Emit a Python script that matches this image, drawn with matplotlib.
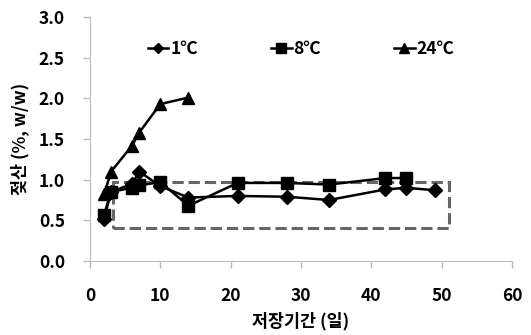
import numpy as np
import matplotlib
matplotlib.use("Agg")
import matplotlib.pyplot as plt
from matplotlib.patches import Rectangle

plt.rcParams['font.family'] = ['Noto Sans CJK KR', 'DejaVu Sans']
plt.rcParams['font.weight'] = 'bold'

days_1c = [2, 3, 6, 7, 10, 14, 21, 28, 34, 42, 45, 49]
acid_1c = [0.52, 0.85, 0.95, 1.10, 0.92, 0.78, 0.80, 0.79, 0.75, 0.88, 0.90, 0.87]

days_8c = [2, 3, 6, 7, 10, 14, 21, 28, 34, 42, 45]
acid_8c = [0.57, 0.85, 0.90, 0.93, 0.97, 0.68, 0.96, 0.96, 0.94, 1.02, 1.02]

days_24c = [2, 3, 6, 7, 10, 14]
acid_24c = [0.82, 1.10, 1.42, 1.58, 1.93, 2.01]

box_x = [3.3, 51.0]
box_y = [0.40, 0.97]

fs = 12.5

fig = plt.figure(figsize=(5.31, 3.35), dpi=100)
ax = fig.add_axes([0.1695, 0.221, 0.7945, 0.728])

ax.plot(days_1c, acid_1c, color='black', lw=1.8, marker='D', ms=7, label='1℃')
ax.plot(days_8c, acid_8c, color='black', lw=1.8, marker='s', ms=9, label='8℃')
ax.plot(days_24c, acid_24c, color='black', lw=1.8, marker='^', ms=9, label='24℃')

ax.add_patch(Rectangle((box_x[0], box_y[0]), box_x[1] - box_x[0], box_y[1] - box_y[0],
                       fill=False, ls='--', lw=2.2, ec='#666666', zorder=1))

ax.set_xlim(0, 60)
ax.set_ylim(0, 3.0)
ax.set_xticks(np.arange(0, 61, 10))
ax.set_yticks(np.arange(0, 3.01, 0.5))
ax.yaxis.set_major_formatter(matplotlib.ticker.FormatStrFormatter('%.1f'))
ax.tick_params(labelsize=fs, length=5, color='#bbbbbb', width=1)
ax.tick_params(axis='x', pad=14)
ax.tick_params(axis='y', pad=13)
for s in ['top', 'right']:
    ax.spines[s].set_visible(False)
for s in ['left', 'bottom']:
    ax.spines[s].set_color('#bbbbbb')

ax.set_xlabel('저장기간 (일)', fontsize=fs, fontweight='bold', labelpad=5)
ax.set_ylabel('젖산 (%, w/w)', fontsize=fs, fontweight='bold', labelpad=7)

leg = ax.legend(ncol=3, loc='upper center', bbox_to_anchor=(0.5, 0.97), frameon=False,
                fontsize=fs, handlelength=1.2, handletextpad=0.1, columnspacing=4.2,
                markerscale=0.8)

fig.savefig('out.png', dpi=100)
